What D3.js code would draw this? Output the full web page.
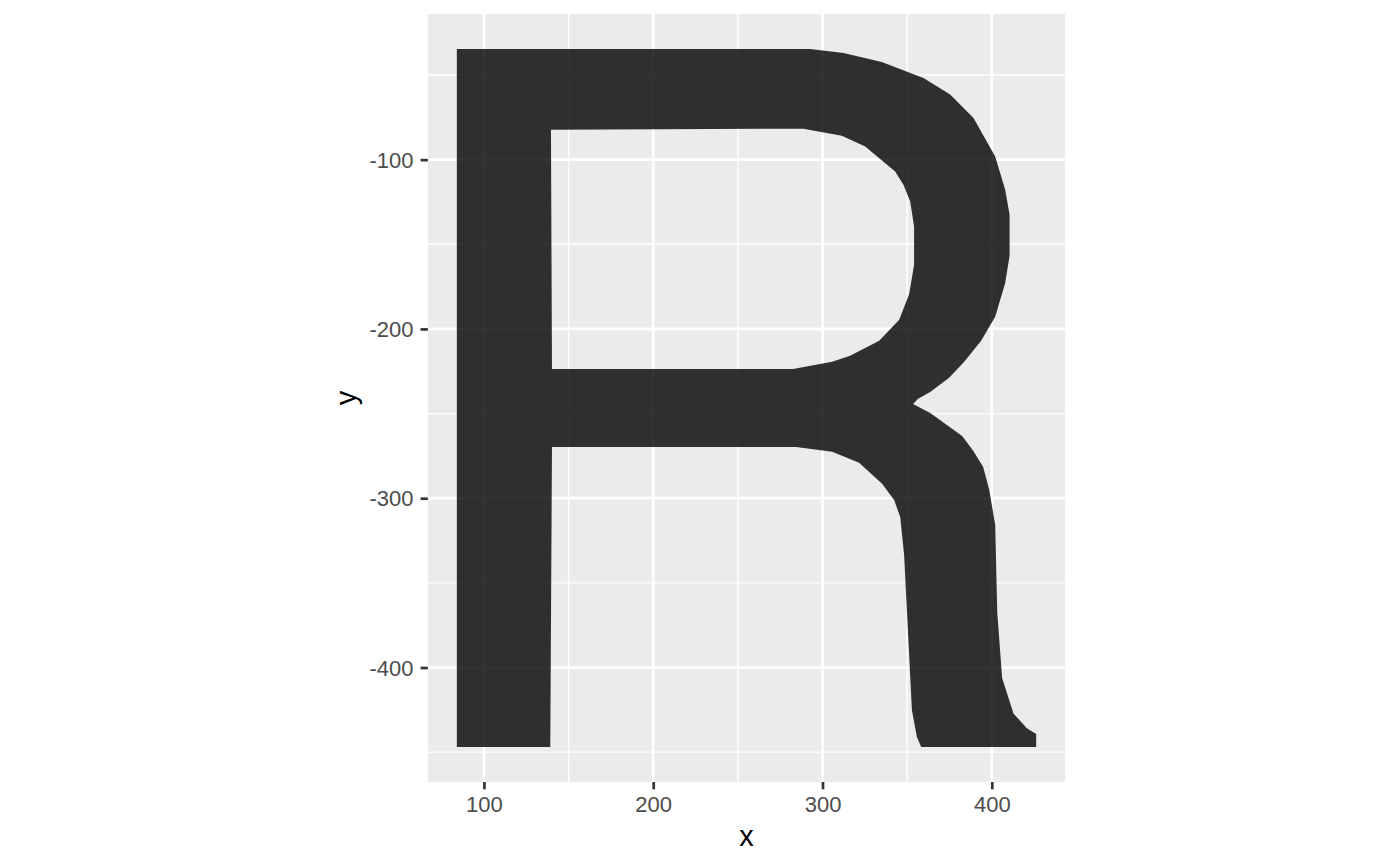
<!DOCTYPE html>
<html>
<head>
<meta charset="utf-8">
<script src="https://cdn.jsdelivr.net/npm/d3@7"></script>
<style>
    body { margin: 0; background: #ffffff; }
    text { font-family: "Liberation Sans", Arial, Helvetica, sans-serif; }
    .tick-label { fill: #4d4d4d; font-size: 22px; }
    .axis-title { fill: #000000; font-size: 29px; }
</style>
</head>
<body>
<svg id="chart" width="1400" height="866"></svg>
<script>
// outline of the letter, [x, y] pairs
const outerRing = [
    [84.0, -447.0], [84.0, -34.6], [292.7, -34.6], [312.4, -37.0], [335.0, -42.3],
    [359.6, -51.8], [375.4, -61.6], [389.2, -75.4], [402.0, -98.1], [407.9, -117.8],
    [410.5, -132.6], [410.5, -156.8], [407.9, -172.8], [402.0, -192.8], [393.7, -207.0],
    [383.7, -219.4], [374.8, -228.9], [363.6, -237.2], [356.5, -241.3], [353.5, -244.3],
    [363.6, -249.6], [382.5, -263.2], [389.0, -272.0], [394.9, -281.5], [398.5, -295.1],
    [402.0, -315.8], [403.2, -367.2], [406.1, -406.2], [412.8, -427.1], [420.7, -435.9],
    [426.2, -439.3], [426.2, -447.0], [358.3, -447.0], [355.7, -440.9], [352.8, -425.1],
    [348.2, -333.5], [345.9, -311.1], [342.3, -301.0], [335.2, -291.5], [321.6, -279.1],
    [305.7, -272.6], [284.4, -269.7], [140.2, -269.7], [139.2, -447.0]
];

// the hole in the bowl
const innerRing = [
    [139.6, -82.3], [288.7, -81.7], [311.4, -85.9], [325.2, -92.2], [342.9, -107.0],
    [347.8, -114.8], [351.8, -124.7], [354.1, -139.7], [354.1, -162.1], [351.2, -179.3],
    [345.3, -194.6], [333.5, -207.0], [316.3, -215.9], [305.7, -219.4], [282.6, -223.6],
    [140.2, -223.6]
];

const xBreaks = [100, 200, 300, 400];
const xMinorBreaks = [150, 250, 350];
const yBreaks = [-100, -200, -300, -400];
const yMinorBreaks = [-50, -150, -250, -350, -450];

const svg = d3.select('#chart');

// ggplot style: 5% expansion on each side, equal units on both axes
const allPoints = [...outerRing, ...innerRing];
const xExtent = d3.extent(allPoints, d => d[0]);
const yExtent = d3.extent(allPoints, d => d[1]);
const xPad = (xExtent[1] - xExtent[0]) * 0.05;
const yPad = (yExtent[1] - yExtent[0]) * 0.05;
const xDomain = [xExtent[0] - xPad, xExtent[1] + xPad];
const yDomain = [yExtent[0] - yPad, yExtent[1] + yPad];

const panelTop = 14;
const panelHeight = 768;
const unit = panelHeight / (yDomain[1] - yDomain[0]);
const panelWidth = unit * (xDomain[1] - xDomain[0]);
const panelLeft = 746.5 - panelWidth / 2;

const xScale = d3.scaleLinear()
        .domain(xDomain)
        .range([panelLeft, panelLeft + panelWidth]);
const yScale = d3.scaleLinear()
        .domain(yDomain)
        .range([panelTop + panelHeight, panelTop]);

// panel background
svg.append('rect')
        .attr('x', panelLeft)
        .attr('y', panelTop)
        .attr('width', panelWidth)
        .attr('height', panelHeight)
        .attr('fill', '#ebebeb');

// grid lines, minor first
const grid = svg.append('g');
grid.selectAll('line.vminor')
        .data(xMinorBreaks)
        .enter()
        .append('line')
        .attr('x1', d => xScale(d))
        .attr('x2', d => xScale(d))
        .attr('y1', panelTop)
        .attr('y2', panelTop + panelHeight)
        .attr('stroke', '#ffffff')
        .attr('stroke-width', 1.4);
grid.selectAll('line.hminor')
        .data(yMinorBreaks.filter(d => d >= yDomain[0] && d <= yDomain[1]))
        .enter()
        .append('line')
        .attr('x1', panelLeft)
        .attr('x2', panelLeft + panelWidth)
        .attr('y1', d => yScale(d))
        .attr('y2', d => yScale(d))
        .attr('stroke', '#ffffff')
        .attr('stroke-width', 1.4);
grid.selectAll('line.vmajor')
        .data(xBreaks)
        .enter()
        .append('line')
        .attr('x1', d => xScale(d))
        .attr('x2', d => xScale(d))
        .attr('y1', panelTop)
        .attr('y2', panelTop + panelHeight)
        .attr('stroke', '#ffffff')
        .attr('stroke-width', 2.7);
grid.selectAll('line.hmajor')
        .data(yBreaks)
        .enter()
        .append('line')
        .attr('x1', panelLeft)
        .attr('x2', panelLeft + panelWidth)
        .attr('y1', d => yScale(d))
        .attr('y2', d => yScale(d))
        .attr('stroke', '#ffffff')
        .attr('stroke-width', 2.7);

// the polygon, hole cut with evenodd
const line = d3.line()
        .x(d => xScale(d[0]))
        .y(d => yScale(d[1]));
svg.append('path')
        .attr('d', line(outerRing) + 'Z' + line(innerRing) + 'Z')
        .attr('fill', '#000000')
        .attr('fill-opacity', 0.8)
        .attr('fill-rule', 'evenodd');

// axes (plain hyphen for negatives, like R)
const tickLength = 7.3;
const xAxis = d3.axisBottom(xScale)
        .tickValues(xBreaks)
        .tickFormat(d => String(d))
        .tickSizeInner(tickLength)
        .tickSizeOuter(0)
        .tickPadding(7);
const yAxis = d3.axisLeft(yScale)
        .tickValues(yBreaks)
        .tickFormat(d => String(d))
        .tickSizeInner(tickLength)
        .tickSizeOuter(0)
        .tickPadding(7);

const xAxisG = svg.append('g')
        .attr('transform', `translate(0, ${panelTop + panelHeight})`)
        .call(xAxis);
const yAxisG = svg.append('g')
        .attr('transform', `translate(${panelLeft}, 0)`)
        .call(yAxis);

[xAxisG, yAxisG].forEach(g => {
    g.select('.domain').remove();
    g.selectAll('.tick line')
            .attr('stroke', '#333333')
            .attr('stroke-width', 2.7);
    g.selectAll('.tick text')
            .attr('class', 'tick-label')
            .attr('font-family', null)
            .attr('font-size', null)
            .attr('fill', null);
});
xAxisG.selectAll('.tick text').attr('dy', '0.71em').attr('y', tickLength + 7);
yAxisG.selectAll('.tick text').attr('dy', '0.35em');

// axis titles
svg.append('text')
        .attr('class', 'axis-title')
        .attr('x', panelLeft + panelWidth / 2)
        .attr('y', 846)
        .attr('text-anchor', 'middle')
        .text('x');
svg.append('text')
        .attr('class', 'axis-title')
        .attr('transform', `translate(356, ${panelTop + panelHeight / 2}) rotate(-90)`)
        .attr('text-anchor', 'middle')
        .text('y');
</script>
</body>
</html>
